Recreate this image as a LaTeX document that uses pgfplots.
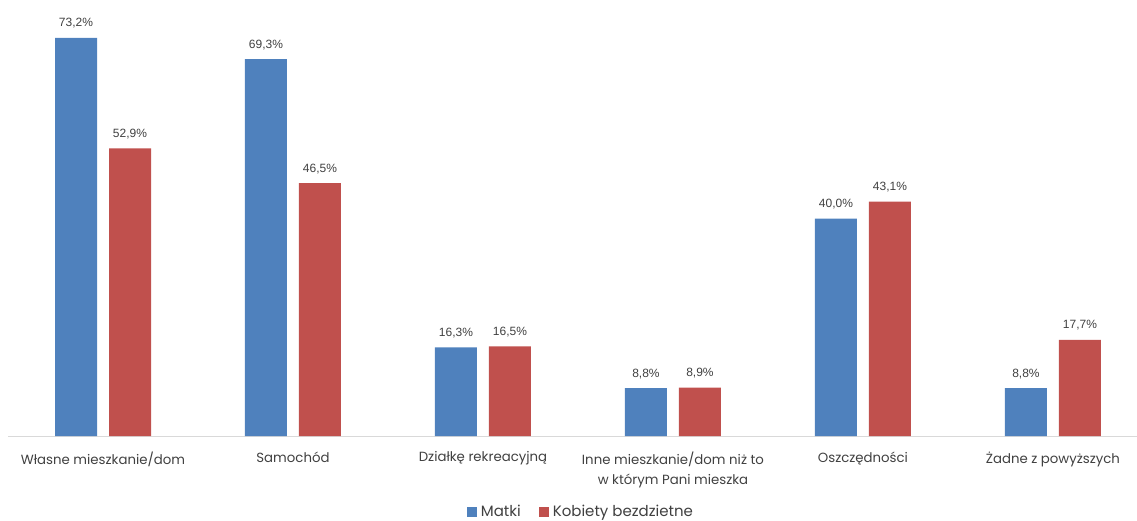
\documentclass[border=0pt]{standalone}
\usepackage{pgfplots}
\pgfplotsset{compat=1.18}
\usepackage{fontspec}
\setmainfont{Poppins}
\newfontfamily\labelfont{Liberation Sans}
\definecolor{cblue}{HTML}{4F81BD}
\definecolor{cred}{HTML}{C0504D}
\definecolor{ctext}{HTML}{404040}
\begin{document}
\begin{tikzpicture}
\useasboundingbox (0pt,0pt) rectangle (1137pt,520pt);
\begin{axis}[
  at={(103pt,84pt)}, anchor=origin,
  scale only axis,
  width=1140pt, height=436pt,
  xmin=-0.5, xmax=5.5, ymin=0, ymax=80.19,
  axis y line=none,
  axis x line*=bottom,
  x axis line style={draw=black!15, line width=1pt, -},
  xtick=data,
  xtick style={draw=none},
  xticklabels={Własne mieszkanie/dom, Samochód, Działkę rekreacyjną, {Inne mieszkanie/dom niż to\\w którym Pani mieszka}, Oszczędności, Żadne z powyższych},
  xticklabel style={align=center, font=\fontsize{13.3}{20.5}\selectfont, text=ctext, yshift=-8pt},
  ybar, bar width=42pt,
  clip=false,
  nodes near coords={\pgfmathprintnumber[fixed,fixed zerofill,precision=1,use comma,assume math mode=true]{\pgfplotspointmeta}\%},
  nodes near coords style={font=\labelfont\fontsize{12}{14}\selectfont, text=ctext, yshift=6pt},
  legend columns=2,
  legend style={at={(0.5026,-0.1743)}, anchor=center, draw=none, font=\fontsize{15}{16}\selectfont, text=ctext,
    /tikz/every even column/.append style={column sep=16pt},
    /tikz/every odd column/.append style={column sep=2pt}},
  legend image code/.code={\fill[#1, draw=none] (0pt,-5pt) rectangle (10pt,5pt);},
]
\addplot[fill=cblue, draw=none, bar shift=-27pt] coordinates {(0,73.2) (1,69.3) (2,16.3) (3,8.8) (4,40.0) (5,8.8)};
\addplot[fill=cred, draw=none, bar shift=27pt] coordinates {(0,52.9) (1,46.5) (2,16.5) (3,8.9) (4,43.1) (5,17.7)};
\legend{Matki, Kobiety bezdzietne}
\end{axis}
\end{tikzpicture}
\end{document}
